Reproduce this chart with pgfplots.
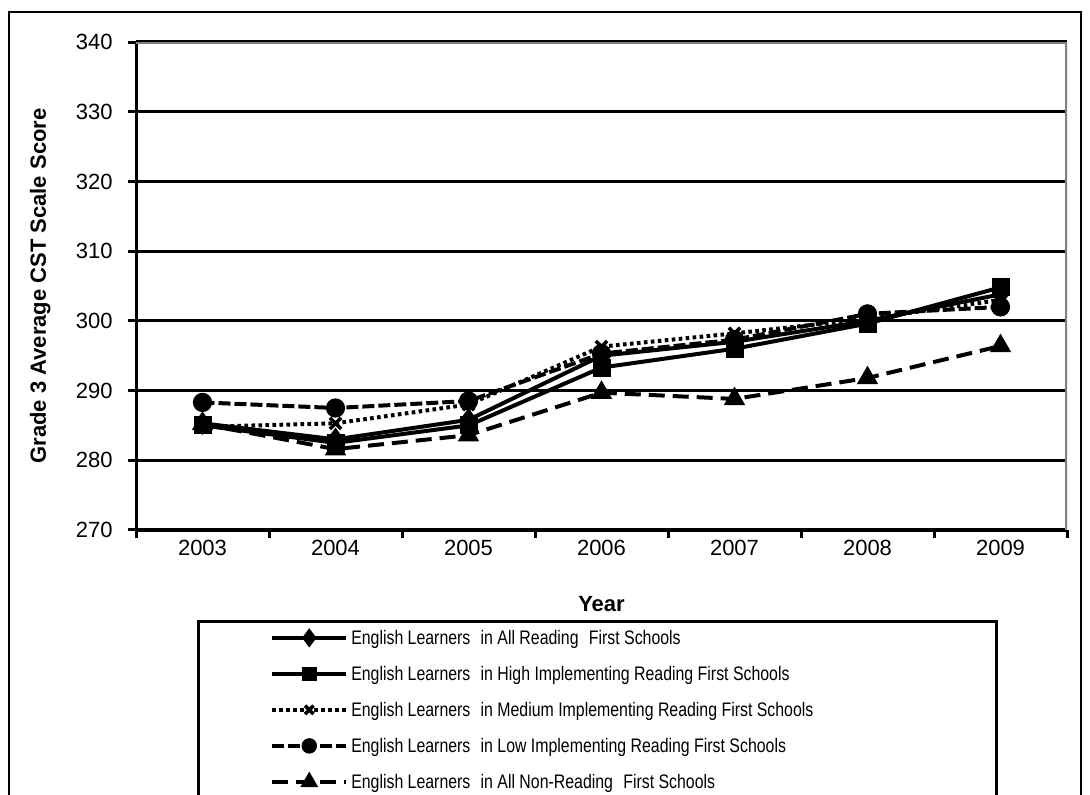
\documentclass[border=0pt]{standalone}
\usepackage{pgfplots}
\pgfplotsset{compat=1.18}
\usepackage{fontspec}
\setmainfont{Liberation Sans}
\newfontfamily\legfont[FakeStretch=0.81]{Liberation Sans}

% legend text cell of fixed width, fixed height and depth
\newcommand\lt[1]{\makebox[286.5pt][l]{\rule[-3.5pt]{0pt}{12pt}#1}}

\begin{document}
\begin{tikzpicture}
\useasboundingbox (0,0) rectangle (545pt,397.5pt);
\fill[white] (0,0) rectangle (545pt,397.5pt);
\draw[line width=1.2pt] (4.5pt,-20pt) rectangle (540.5pt,391.5pt);
\begin{axis}[
  at={(68pt,132.5pt)}, anchor=south west,
  scale only axis, width=465.5pt, height=244pt,
  xmin=-0.5, xmax=6.5, ymin=270, ymax=340,
  axis x line*=bottom, axis y line*=left,
  axis line style={line width=1.5pt, black},
  tick align=outside, major tick length=4pt,
  tick style={line width=1.5pt, black},
  xtick={-0.5,0.5,...,6.5}, xticklabels={},
  extra x ticks={0,1,2,3,4,5,6},
  extra x tick labels={2003,2004,2005,2006,2007,2008,2009},
  extra x tick style={major tick length=0pt},
  xticklabel style={anchor=north, inner sep=0pt, yshift=-5pt, font=\fontsize{11}{13}\selectfont},
  ytick={270,280,...,340},
  yticklabel style={anchor=east, inner sep=0pt, xshift=-7.5pt, font=\fontsize{11}{13}\selectfont},
  /pgf/number format/assume math mode=true,
  ymajorgrids, grid style={line width=1.6pt, black},
  xlabel={Year},
  xlabel style={at={(axis description cs:0.5,-0.166)}, anchor=base, font=\bfseries\fontsize{11}{13}\selectfont},
  ylabel={Grade 3 Average CST Scale Score},
  ylabel style={at={(axis description cs:-0.0967,0.5)}, anchor=base, font=\bfseries\fontsize{11}{13}\selectfont},
  legend cell align=left,
  legend style={at={(0.0655,-0.1844)}, anchor=north west, draw=black, line width=1.3pt,
    font=\legfont\fontsize{9.8}{11}\selectfont,
    inner xsep=36pt, inner ysep=3.3pt, row sep=8pt, column sep=1.5pt,
    nodes={inner sep=0pt}},
  legend image code/.code={\draw[mark repeat=2, mark phase=2, #1, /tikz/every mark/.append style={scale=0.75}] plot coordinates {(0pt,0pt) (18.5pt,0pt) (37pt,0pt)};},
]
% All Reading First schools
\addplot[black, line width=2pt, mark=diamond*, mark size=4.2pt, mark options={solid}]
  coordinates {(0,285.3) (1,283.0) (2,285.8) (3,295.0) (4,297.0) (5,300.0) (6,303.8)};
\addlegendentry{\lt{English Learners\hspace{0.3em} in All Reading\hspace{0.3em} First Schools}}
% High implementing
\addplot[black, line width=2pt, mark=square*, mark size=3.5pt, mark options={solid}]
  coordinates {(0,285.0) (1,282.5) (2,285.0) (3,293.3) (4,296.0) (5,299.6) (6,304.8)};
\addlegendentry{\lt{English Learners\hspace{0.3em} in High Implementing Reading First Schools}}
% Medium implementing
\addplot[black, line width=2pt, dash pattern=on 1.8pt off 1.7pt, mark=x, mark size=4pt, mark options={solid, line width=1.8pt}]
  coordinates {(0,284.8) (1,285.3) (2,288.0) (3,296.3) (4,298.2) (5,300.3) (6,303.0)};
\addlegendentry{\lt{English Learners\hspace{0.3em} in Medium Implementing Reading First Schools}}
% Low implementing
\addplot[black, line width=2pt, dash pattern=on 6pt off 2pt, mark=*, mark size=3.8pt, mark options={solid}]
  coordinates {(0,288.3) (1,287.5) (2,288.5) (3,295.3) (4,297.3) (5,301.0) (6,302.0)};
\addlegendentry{\lt{English Learners\hspace{0.3em} in Low Implementing Reading First Schools}}
% Non-Reading First schools
\addplot[black, line width=2pt, dash pattern=on 8pt off 4pt, mark=triangle*, mark size=4.2pt, mark options={solid}]
  coordinates {(0,285.2) (1,281.6) (2,283.6) (3,289.7) (4,288.8) (5,291.8) (6,296.4)};
\addlegendentry{\lt{English Learners\hspace{0.3em} in All Non-Reading\hspace{0.3em} First Schools}}
% grey frame on the top and right of the plot area
\draw[black!50, line width=1.6pt] (rel axis cs:0,1) -- (rel axis cs:1,1) -- (rel axis cs:1,0);
\end{axis}
\end{tikzpicture}
\end{document}
